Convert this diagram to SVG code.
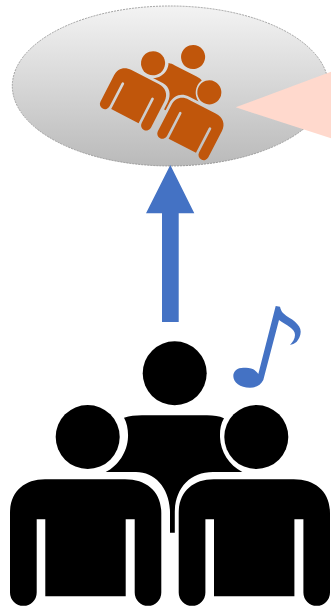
<svg xmlns="http://www.w3.org/2000/svg" xmlns:xlink="http://www.w3.org/1999/xlink" width="331" height="607" viewBox="0 0 331 607">
  <defs>
    <linearGradient id="g" x1="0" y1="0" x2="0" y2="1">
      <stop offset="0" stop-color="#f3f3f3"/>
      <stop offset="1" stop-color="#bababa"/>
    </linearGradient>
    <g id="core">
      <circle cx="174.7" cy="373.3" r="32"/>
      <circle cx="87.7" cy="437" r="32"/>
      <circle cx="256.3" cy="437" r="32"/>
      <path d="M124 417.7 C130 416 135 415.3 142 415.3 H207 C214 415.3 219 416 224 418.3 C220.500 424 219.800 431 220 437 C220.500 452 229 465 242.300 472 H213 C190 472 175.200 488 174.800 512 V532.700 H170 V512 C169.500 488 155 472 136 472 H105.700 C118 466 127.500 452 128 437 C128.300 430 127 423 124 417.700 Z"/>
    </g>
    <path id="man" d="M10 513 C10 492 24 479.300 45 479.300 H125 C147 479.300 161.300 492 161.300 513 V592.500 A13.300 13.300 0 0 1 134.700 592.500 V519.300 H125.700 V596.300 H45.300 V519.300 H36.700 V592.500 A13.350 13.350 0 0 1 10 592.500 Z"/>
    <path id="man-small" d="M10 513 C10 492 24 479.300 45 479.300 H125 C147 479.300 161.300 492 161.300 513 V592 A13.900 13.900 0 0 1 133.500 592 V522 A3.500 3.500 0 0 0 126.500 522 V596.300 H44.500 V522 A3.500 3.500 0 0 0 37.500 522 V592 A13.750 13.750 0 0 1 10 592 Z"/>
  </defs>
  <style>
    .orange { fill: #c0560b; }
    .blue { fill: #4472c4; }
  </style>
  <g id="cloud">
    <ellipse cx="170.300" cy="86" rx="158" ry="80" fill="url(#g)" stroke="#8c8c8c" stroke-width="0.800" stroke-dasharray="2 1"/>
  </g>
  <g id="group-icon" class="orange" transform="translate(181.200 77.800) rotate(27.300) scale(0.3756) translate(-172 -437)">
    <use xlink:href="#core" href="#core"/>
    <use xlink:href="#man-small" href="#man-small"/>
    <use xlink:href="#man-small" href="#man-small" x="172"/>
  </g>
  <g id="callout">
    <polygon points="235.700,107.300 331,71.700 331,138.300" fill="#ffd9cd"/>
  </g>
  <g id="connectors">
    <polygon class="blue" points="170.300,165 194.300,213.300 178.700,213.300 178.700,322 162,322 162,213.300 146,213.300"/>
  </g>
  <g id="audience" fill="#000">
    <use xlink:href="#core" href="#core"/>
    <use xlink:href="#man" href="#man"/>
    <use xlink:href="#man" href="#man" x="168.700"/>
  </g>
  <g id="note">
    <path class="blue" d="M275.700 306 L280 306.700 C280.500 309 281.500 311.500 283.300 313.300 C287 317 291.500 318.500 295 321.700 C298.500 325 300.700 328 300.700 331.700 C300.700 336 298.500 339.500 296.700 341.700 C294.500 343.500 292 344.500 290 345 C292.500 342 295 339 295 335 C295 332 293 329.500 290 327.300 C286.500 324.500 282 322.500 279 320 L263.300 380 C261 385 256 387.700 250 387.700 C240 387.700 233.300 382.500 233.300 376 C233.300 371 237.500 367.700 243.300 367.700 C247 367.700 250.500 368 253.300 369.300 C255.500 370.500 257 372 258.300 374 Z"/>
  </g>
</svg>
